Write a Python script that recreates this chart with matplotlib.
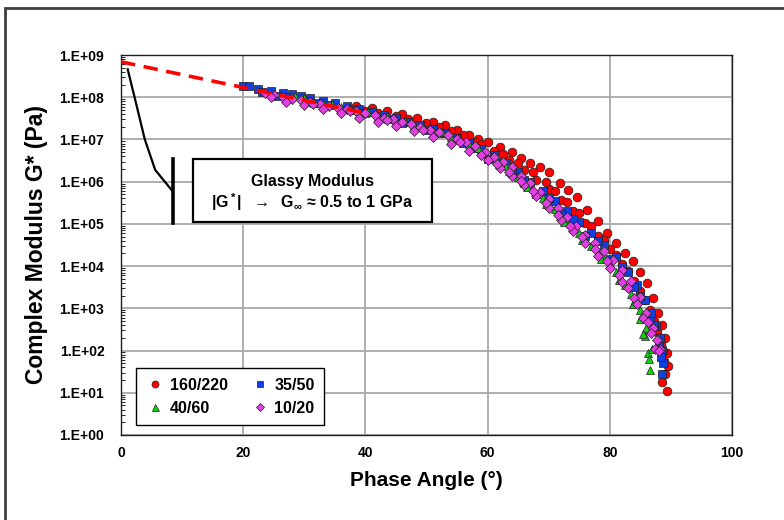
import numpy as np
import matplotlib.pyplot as plt
from matplotlib.patches import Rectangle

plt.rcParams['font.family'] = ['Liberation Sans', 'DejaVu Sans']
plt.rcParams['font.weight'] = 'bold'
plt.rcParams['mathtext.fontset'] = 'custom'
plt.rcParams['mathtext.rm'] = 'Liberation Sans:bold'
plt.rcParams['mathtext.it'] = 'Liberation Sans:bold'

# phase angle (deg) and |G*| (Pa)
phase_160_220 = [38.5, 41.0, 43.5, 46.0, 48.5, 51.0, 53.0, 55.0, 57.0, 58.5,
                 60.0, 62.0, 64.0, 65.5, 67.0, 68.5, 70.0, 71.8, 73.2, 74.6,
                 76.3, 78.0, 79.5, 81.0, 82.5, 83.8, 85.0, 86.1, 87.0, 87.9,
                 88.5, 89.0, 89.3, 89.5, 89.4, 88.6,
                 40.0, 45.0, 50.0, 54.0, 58.0, 61.0, 63.5, 66.0, 68.0, 70.0,
                 72.0, 74.0, 76.0, 78.0, 80.0, 82.0, 84.0, 85.8, 87.2, 88.3, 88.8,
                 42.0, 47.0, 52.0, 56.0, 59.0, 62.5, 65.0, 67.5, 69.5, 71.0,
                 73.0, 75.0, 77.0, 79.0, 81.0, 83.0, 85.0, 86.6, 87.8, 88.7, 89.1]
g_160_220 = [6.3e7, 5.6e7, 4.8e7, 4.0e7, 3.3e7, 2.6e7, 2.2e7, 1.7e7, 1.3e7, 1.05e7,
             8.7e6, 6.6e6, 5.0e6, 3.6e6, 2.75e6, 2.2e6, 1.7e6, 9.3e5, 6.3e5, 4.4e5,
             2.1e5, 1.2e5, 6.0e4, 3.6e4, 2.1e4, 1.3e4, 7.1e3, 4.0e3, 1.8e3, 7.9e2,
             4.0e2, 2.0e2, 8.9e1, 4.2e1, 1.1e1, 1.8e1,
             4.6e7, 3.5e7, 2.4e7, 1.6e7, 8.7e6, 5.2e6, 3.3e6, 1.9e6, 1.1e6, 6.6e5,
             3.6e5, 2.0e5, 1.05e5, 5.2e4, 2.5e4, 1.1e4, 4.5e3, 1.6e3, 5.0e2, 1.4e2, 5.6e1,
             4.2e7, 3.0e7, 2.0e7, 1.26e7, 7.6e6, 4.6e6, 2.8e6, 1.66e6, 1.0e6, 6.0e5,
             3.3e5, 1.8e5, 8.9e4, 4.2e4, 1.8e4, 7.6e3, 2.6e3, 8.9e2, 2.8e2, 1.0e2, 2.8e1]

phase_35_50 = [20.0, 21.0, 22.5, 24.5, 26.5, 28.0, 29.5, 31.0, 33.0, 35.0,
               37.0, 39.0, 41.0, 43.0, 45.0, 47.0, 49.0, 51.0, 53.0, 55.0,
               57.0, 59.0, 61.0, 63.0, 65.0, 67.0, 69.0, 71.0, 73.0, 75.0,
               77.0, 79.0, 81.0, 83.0, 84.5, 85.8, 86.8, 87.6, 88.2, 88.6, 88.7, 88.5,
               25.5, 32.0, 38.0, 44.0, 50.0, 56.0, 60.0, 64.0, 68.0, 72.0,
               76.0, 80.0, 84.0, 86.5, 88.0,
               23.0, 27.0, 30.5, 34.0, 40.0, 46.0, 52.0, 58.0, 62.0, 66.0,
               70.0, 74.0, 78.0, 82.0, 85.0, 87.2, 88.4]
g_35_50 = [1.85e8, 1.8e8, 1.6e8, 1.4e8, 1.26e8, 1.2e8, 1.05e8, 9.5e7, 8.3e7, 7.2e7,
           6.3e7, 5.2e7, 4.4e7, 3.8e7, 3.2e7, 2.6e7, 2.2e7, 1.8e7, 1.4e7, 1.1e7,
           8.3e6, 6.0e6, 4.2e6, 2.75e6, 1.7e6, 1.0e6, 6.0e5, 3.5e5, 2.0e5, 1.1e5,
           6.0e4, 3.2e4, 1.6e4, 7.2e3, 3.5e3, 1.6e3, 7.6e2, 3.8e2, 2.0e2, 1.05e2, 5.2e1, 2.8e1,
           1.05e8, 7.2e7, 5.0e7, 3.0e7, 1.7e7, 8.3e6, 3.5e6, 1.6e6, 5.2e5, 1.7e5,
           5.2e4, 1.5e4, 3.2e3, 5.0e2, 1.26e2,
           1.3e8, 1.0e8, 8.3e7, 6.6e7, 4.2e7, 2.5e7, 1.45e7, 6.3e6, 3.0e6, 1.1e6,
           4.2e5, 1.3e5, 4.0e4, 9.5e3, 2.0e3, 4.0e2, 7.1e1]

phase_40_60 = [28.5, 31.5, 34.5, 37.5, 40.5, 43.5, 46.5, 49.5, 52.5, 55.5,
               58.5, 61.0, 63.0, 65.0, 67.0, 69.0, 71.0, 73.0, 75.0, 77.0,
               79.0, 81.0, 82.5, 84.0, 85.0, 85.8, 86.3, 86.6,
               30.0, 36.0, 42.0, 48.0, 54.0, 59.5, 62.0, 64.0, 66.0, 68.0,
               70.0, 72.0, 74.0, 76.0, 78.0, 80.0, 82.0, 83.5, 85.0, 86.0,
               33.0, 39.0, 45.0, 51.0, 57.0, 60.5, 63.5, 66.5, 69.5, 72.5,
               75.5, 78.5, 81.5, 83.8, 85.5, 86.4, 86.9]
g_40_60 = [1.05e8, 8.3e7, 6.9e7, 5.5e7, 4.5e7, 3.5e7, 2.75e7, 2.0e7, 1.5e7, 1.0e7,
           6.3e6, 3.6e6, 2.3e6, 1.3e6, 7.6e5, 4.2e5, 2.2e5, 1.15e5, 6.0e4, 3.0e4,
           1.5e4, 7.1e3, 3.5e3, 1.4e3, 5.6e2, 2.2e2, 8.9e1, 3.5e1,
           9.5e7, 5.8e7, 3.6e7, 2.2e7, 1.15e7, 4.6e6, 2.6e6, 1.6e6, 9.1e5, 5.0e5,
           2.8e5, 1.5e5, 7.9e4, 4.2e4, 2.1e4, 1.05e4, 4.8e3, 2.2e3, 8.9e2, 3.5e2,
           7.2e7, 4.6e7, 2.9e7, 1.66e7, 7.6e6, 3.8e6, 1.8e6, 7.6e5, 3.0e5, 1.1e5,
           4.2e4, 1.5e4, 4.8e3, 1.26e3, 2.5e2, 6.3e1, 1.1e2]

phase_10_20 = [23.5, 25.0, 26.5, 28.0, 29.5, 31.0, 32.5, 34.0, 35.5, 37.0,
               38.5, 40.0, 41.5, 43.0, 44.5, 46.0, 47.5, 49.0, 50.5, 52.0,
               53.5, 55.0, 56.5, 58.0, 59.5, 61.0, 62.5, 64.0, 65.5, 67.0,
               68.5, 70.0, 71.5, 73.0, 74.5, 76.0, 77.5, 79.0, 80.5, 82.0,
               83.5, 85.0, 86.0, 87.0, 87.7, 88.2,
               27.0, 30.0, 33.0, 36.0, 39.0, 42.0, 45.0, 48.0, 51.0, 54.0,
               57.0, 60.0, 62.0, 64.0, 66.0, 68.0, 70.0, 72.0, 74.0, 76.0,
               78.0, 80.0, 82.0, 84.0, 85.5, 86.8,
               24.5, 31.5, 37.5, 43.5, 49.5, 55.5, 59.0, 61.5, 63.5, 65.5,
               67.5, 69.5, 71.5, 73.5, 75.5, 77.5, 79.5, 81.5, 83.0, 84.5,
               86.3, 87.4, 88.0]
g_10_20 = [1.26e8, 1.1e8, 1.0e8, 9.1e7, 8.5e7, 7.6e7, 6.9e7, 6.3e7, 5.6e7, 5.2e7,
           4.6e7, 4.2e7, 3.8e7, 3.3e7, 3.0e7, 2.6e7, 2.3e7, 2.0e7, 1.7e7, 1.5e7,
           1.3e7, 1.05e7, 8.9e6, 6.9e6, 5.0e6, 3.8e6, 3.0e6, 2.2e6, 1.4e6, 9.1e5,
           5.8e5, 3.8e5, 2.4e5, 1.45e5, 8.9e4, 5.5e4, 3.5e4, 2.3e4, 1.4e4, 8.3e3,
           4.5e3, 1.9e3, 7.9e2, 3.5e2, 1.8e2, 1.1e2,
           7.9e7, 6.6e7, 5.2e7, 4.2e7, 3.3e7, 2.6e7, 2.1e7, 1.6e7, 1.15e7, 7.9e6,
           5.2e6, 3.2e6, 2.1e6, 1.4e6, 8.3e5, 4.6e5, 2.4e5, 1.26e5, 6.9e4, 3.5e4,
           1.7e4, 8.9e3, 4.2e3, 1.8e3, 6.0e2, 2.6e2,
           1.0e8, 6.9e7, 4.6e7, 2.9e7, 1.66e7, 8.7e6, 4.2e6, 2.6e6, 1.66e6, 1.05e6,
           6.0e5, 3.2e5, 1.66e5, 9.1e4, 4.8e4, 2.5e4, 1.3e4, 6.3e3, 3.0e3, 1.26e3,
           4.8e2, 1.1e2, 1.0e2]

# glassy modulus extrapolation (dashed) and sketch curve
glassy_phase = [0.0, 40.0]
glassy_g = [6.9e8, 4.2e7]
sketch_phase = [1.1, 2.6, 3.9, 5.6, 8.3]
sketch_g = [4.6e8, 6.0e7, 1.0e7, 1.9e6, 6.3e5]
bar_phase = [8.5, 8.5]
bar_g = [1.05e5, 3.4e6]

y_ticks = [1e0, 1e1, 1e2, 1e3, 1e4, 1e5, 1e6, 1e7, 1e8, 1e9]
y_labels = ['1.E+00', '1.E+01', '1.E+02', '1.E+03', '1.E+04',
            '1.E+05', '1.E+06', '1.E+07', '1.E+08', '1.E+09']
x_ticks = [0, 20, 40, 60, 80, 100]

fig = plt.figure(figsize=(7.84, 5.2), dpi=100)
ax = fig.add_axes([0.1543, 0.1635, 0.7794, 0.7307])

# outer chart border
fig.patches.append(Rectangle((0.0064, -0.05), 1.1, 0.9846 + 0.05, transform=fig.transFigure,
                             fill=False, edgecolor='#404040', linewidth=2))

ax.set_yscale('log')
ax.set_xlim(0, 100)
ax.set_ylim(1e0, 1e9)

ax.plot(glassy_phase, glassy_g, color='#FF0000', lw=2.6, dashes=(4, 2.4), zorder=5)
ax.plot(sketch_phase, sketch_g, color='black', lw=1.6, zorder=3)
ax.plot(bar_phase, bar_g, color='black', lw=2.6, zorder=3)

kw = dict(ls='none', mec='#202020', mew=0.5, zorder=4)
h1, = ax.plot(phase_160_220, g_160_220, marker='o', ms=6.3, mfc='#FF0000', label='160/220', **kw)
h2, = ax.plot(phase_35_50, g_35_50, marker='s', ms=5.8, mfc='#1040E0', label='35/50', **kw)
h3, = ax.plot(phase_40_60, g_40_60, marker='^', ms=6.3, mfc='#10D010', label='40/60', **kw)
h4, = ax.plot(phase_10_20, g_10_20, marker='D', ms=5.5, mfc='#E040E0', label='10/20', **kw)

ax.set_yticks(y_ticks)
ax.set_yticklabels(y_labels)
ax.set_xticks(x_ticks)
ax.tick_params(axis='both', which='major', length=0, labelsize=10)
ax.tick_params(axis='y', which='major', pad=12)
ax.tick_params(axis='x', which='major', pad=8)
ax.tick_params(axis='y', which='minor', direction='in', length=3, width=0.6, labelleft=False)
ax.grid(True, which='major', color='#A8A8A8', lw=1.3)
ax.set_axisbelow(True)
for s in ax.spines.values():
    s.set_color('#202020')
    s.set_linewidth(1.0)

ax.set_xlabel('Phase Angle (°)', fontsize=15, fontweight='bold', labelpad=8)
ax.set_ylabel('Complex Modulus G* (Pa)', fontsize=16.5, fontweight='bold', labelpad=8)

# annotation box
ax.add_patch(Rectangle((0.118, 0.5605), 0.391, 0.1655, transform=ax.transAxes,
                       facecolor='white', edgecolor='black', lw=1.6, zorder=5))
ax.text(0.313, 0.668, 'Glassy Modulus', transform=ax.transAxes, ha='center', va='center',
        fontsize=11.5, fontweight='bold', zorder=6)
ax.text(0.313, 0.612, r'|G$^*$|  $\rightarrow$  G$_\infty$ ≈ 0.5 to 1 GPa', transform=ax.transAxes,
        ha='center', va='center', fontsize=11.5, fontweight='bold', zorder=6)

leg = ax.legend([h1, h3, h2, h4], ['160/220', '40/60', '35/50', '10/20'], ncol=2,
                loc='lower left', bbox_to_anchor=(0.025, 0.026), borderaxespad=0,
                fancybox=False, edgecolor='black', framealpha=1, fontsize=11.5,
                handletextpad=0.3, columnspacing=1.4, handlelength=1.2, markerscale=0.8,
                borderpad=0.6)
leg.get_frame().set_linewidth(1.0)
leg.set_zorder(7)

fig.savefig('out.png', dpi=100)
